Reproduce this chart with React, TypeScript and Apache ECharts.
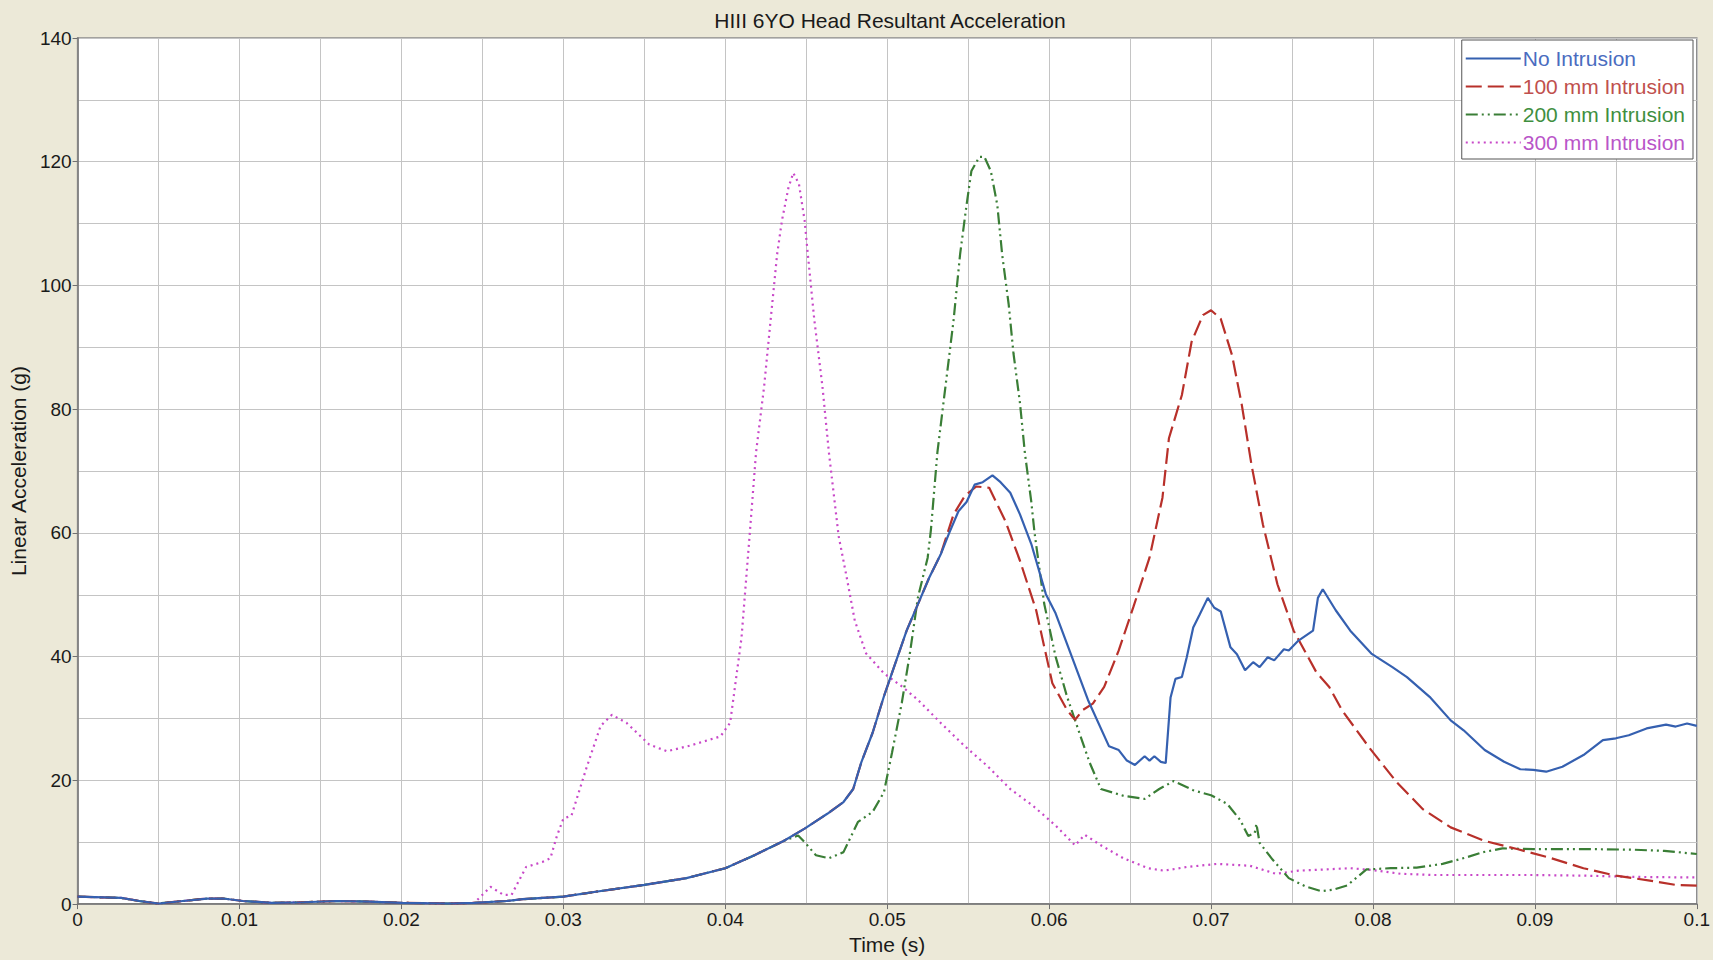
import React, { useEffect, useRef } from "react";
import * as echarts from "echarts";

const chartTitle = "HIII 6YO Head Resultant Acceleration";
const xAxisName = "Time (s)";
const yAxisName = "Linear Acceleration (g)";
const seriesNames = ["No Intrusion", "100 mm Intrusion", "200 mm Intrusion", "300 mm Intrusion"];

// shared pre-impact segment (all four curves coincide here)
const commonEarly: [number, number][] = [
  [0, 1.2], [0.0027, 1.0], [0.0038, 0.5], [0.005, 0.1], [0.0065, 0.5], [0.008, 0.9],
  [0.009, 0.9], [0.0102, 0.5], [0.012, 0.2], [0.014, 0.3], [0.016, 0.5], [0.018, 0.4],
  [0.02, 0.2], [0.023, 0.1], [0.0245, 0.2],
];

// shared rise segment for the three non-300 mm curves
const commonRise: [number, number][] = [
  [0.0265, 0.5], [0.0275, 0.8], [0.03, 1.2], [0.032, 2.0], [0.035, 3.1], [0.0376, 4.2],
  [0.04, 5.8], [0.0418, 7.9], [0.0436, 10.2],
];

const noIntrusionTail: [number, number][] = [
  [0.0449, 12.2], [0.0463, 14.6], [0.0473, 16.5], [0.0479, 18.6], [0.0484, 22.9], [0.0491, 27.7],
  [0.0498, 33.6], [0.0505, 38.9], [0.0512, 44.2], [0.0519, 48.5], [0.0526, 52.8], [0.0533, 56.5],
  [0.0538, 59.8], [0.0544, 63.5], [0.0549, 65.0], [0.0554, 67.8], [0.0559, 68.2], [0.0565, 69.3],
  [0.057, 68.2], [0.0576, 66.5], [0.0582, 63.0], [0.0589, 58.2], [0.0598, 50.1], [0.0604, 47.0],
  [0.0611, 42.1], [0.0624, 33.0], [0.0637, 25.5], [0.0643, 24.9], [0.0648, 23.2], [0.0653, 22.5],
  [0.0659, 23.9], [0.0662, 23.2], [0.0665, 23.9], [0.0669, 23.0], [0.0672, 22.8], [0.0675, 33.4],
  [0.0678, 36.4], [0.0682, 36.7], [0.0685, 39.9], [0.0689, 44.7], [0.0693, 46.8], [0.0698, 49.5],
  [0.0702, 47.9], [0.0706, 47.3], [0.0712, 41.5], [0.0716, 40.4], [0.0721, 37.8], [0.0726, 39.1],
  [0.073, 38.3], [0.0735, 39.9], [0.0739, 39.4], [0.0745, 41.2], [0.0748, 41.0], [0.0754, 42.6],
  [0.0763, 44.2], [0.0766, 49.5], [0.0769, 50.9], [0.0777, 47.5], [0.0786, 44.2], [0.0799, 40.5],
  [0.0812, 38.3], [0.0821, 36.7], [0.0835, 33.5], [0.0848, 29.7], [0.0856, 28.1], [0.0869, 24.9],
  [0.0881, 23.0], [0.0891, 21.8], [0.0899, 21.7], [0.0907, 21.4], [0.0917, 22.2], [0.093, 24.1],
  [0.0942, 26.5], [0.095, 26.8], [0.0958, 27.3], [0.0969, 28.4], [0.0981, 29.0], [0.0987, 28.7],
  [0.0994, 29.2], [0.1, 28.8],
];

const intrusion100Tail: [number, number][] = [
  [0.0449, 12.2], [0.0463, 14.6], [0.0473, 16.5], [0.0479, 18.6], [0.0484, 22.9], [0.0491, 27.7],
  [0.0498, 33.6], [0.0505, 38.9], [0.0512, 44.2], [0.0519, 48.5], [0.0526, 52.8], [0.0533, 56.5],
  [0.0541, 63.0], [0.0548, 66.0], [0.0555, 67.5], [0.0563, 67.3], [0.0573, 61.9], [0.0582, 55.5],
  [0.0592, 47.5], [0.0602, 35.7], [0.0611, 31.4], [0.0616, 29.8], [0.0621, 31.4], [0.0627, 32.4],
  [0.0634, 35.1], [0.0643, 41.0], [0.0652, 48.0], [0.0662, 56.0], [0.067, 65.7], [0.0674, 75.3],
  [0.0682, 82.3], [0.0688, 90.9], [0.0695, 95.2], [0.07, 96.0], [0.0706, 94.6], [0.0713, 88.7],
  [0.0719, 80.7], [0.0725, 71.0], [0.0732, 61.4], [0.0741, 51.7], [0.0751, 44.2], [0.0765, 37.5],
  [0.0773, 35.1], [0.0781, 31.3], [0.0798, 25.2], [0.0815, 19.6], [0.0831, 15.3], [0.0848, 12.4],
  [0.0869, 10.2], [0.0889, 8.9], [0.0909, 7.5], [0.093, 5.8], [0.095, 4.6], [0.0971, 3.8],
  [0.0987, 3.1], [0.1, 3.0],
];

const intrusion200Tail: [number, number][] = [
  [0.0445, 11.1], [0.0449, 10.0], [0.0456, 7.9], [0.0464, 7.4], [0.0473, 8.4], [0.0482, 13.3],
  [0.0491, 14.9], [0.0498, 18.1], [0.0503, 24.5], [0.0509, 32.5], [0.0514, 40.5], [0.0519, 49.6],
  [0.0525, 56.0], [0.0527, 60.5], [0.0531, 73.0], [0.0536, 83.7], [0.0541, 94.4], [0.0545, 105.0],
  [0.0549, 113.0], [0.0552, 118.5], [0.0557, 120.8], [0.056, 120.8], [0.0564, 118.5], [0.0568, 113.0],
  [0.0571, 105.0], [0.0575, 97.0], [0.0578, 89.0], [0.0582, 81.0], [0.0585, 73.0], [0.0589, 65.0],
  [0.0591, 60.0], [0.0597, 48.5], [0.0604, 40.0], [0.0611, 33.6], [0.0618, 28.2], [0.0625, 22.9],
  [0.0632, 18.6], [0.0646, 17.5], [0.0659, 17.0], [0.0668, 18.6], [0.0677, 19.9], [0.0689, 18.4],
  [0.07, 17.6], [0.071, 16.2], [0.0718, 13.6], [0.0723, 11.0], [0.0727, 11.5], [0.0728, 13.0],
  [0.073, 9.9], [0.0738, 7.2], [0.0748, 4.2], [0.0758, 2.9], [0.0768, 2.1], [0.0775, 2.3],
  [0.0784, 3.0], [0.0796, 5.6], [0.0811, 5.8], [0.0827, 5.9], [0.0843, 6.5], [0.0857, 7.5],
  [0.0868, 8.4], [0.088, 9.0], [0.0899, 8.9], [0.093, 8.9], [0.096, 8.8], [0.098, 8.6], [0.1, 8.1],
];

const intrusion300Tail: [number, number][] = [
  [0.0255, 2.8], [0.0263, 1.5], [0.0268, 1.5], [0.0277, 6.0], [0.0287, 6.8], [0.0292, 7.4],
  [0.0296, 11.0], [0.03, 13.8], [0.0305, 14.3], [0.0314, 21.8], [0.0323, 28.8], [0.033, 30.6],
  [0.0339, 29.3], [0.0353, 25.8], [0.0364, 24.7], [0.0378, 25.6], [0.0397, 27.1], [0.0403, 29.3],
  [0.041, 43.0], [0.0415, 59.5], [0.0419, 73.0], [0.0424, 83.7], [0.0428, 94.4], [0.0432, 105.0],
  [0.0435, 110.5], [0.0439, 115.8], [0.0442, 118.2], [0.04455, 116.4], [0.0449, 110.5], [0.0451, 105.0],
  [0.0455, 94.4], [0.046, 83.7], [0.0464, 73.0], [0.047, 59.5], [0.0475, 52.8], [0.048, 45.8],
  [0.0487, 40.5], [0.0498, 37.3], [0.0509, 35.2], [0.0519, 33.0], [0.0533, 29.3], [0.0548, 25.5],
  [0.0562, 22.3], [0.0576, 18.6], [0.059, 15.9], [0.0604, 12.7], [0.0616, 9.5], [0.0622, 11.2],
  [0.0632, 9.5], [0.0646, 7.4], [0.0661, 5.8], [0.0671, 5.4], [0.0685, 6.0], [0.0704, 6.5],
  [0.0724, 6.2], [0.074, 4.9], [0.0754, 5.4], [0.0786, 5.8], [0.08, 5.5], [0.0817, 4.9],
  [0.0837, 4.7], [0.0868, 4.7], [0.0899, 4.7], [0.093, 4.6], [0.096, 4.4], [0.1, 4.3],
];

const lineColors = ["#3560B0", "#B8302A", "#3A7E36", "#C848C8"];
const legendTextColors = ["#4A6CC0", "#C0504D", "#3F8F3F", "#B955C8"];
const lineDashes: any[] = ["solid", [16, 6], [12, 4, 2, 4, 2, 4], [2, 4]];

const FONT = "Liberation Sans, Arial, sans-serif";

const GRID_LEFT = 73;
const GRID_RIGHT = 16;
const WIDTH = 1713;

export default function App() {
  const ref = useRef<HTMLDivElement>(null);

  useEffect(() => {
    if (!ref.current) return;
    const chart = echarts.init(ref.current, undefined, { renderer: "svg" });

    const seriesData = [
      [...commonEarly, ...commonRise, ...noIntrusionTail],
      [...commonEarly, ...commonRise, ...intrusion100Tail],
      [...commonEarly, ...commonRise, ...intrusion200Tail],
      [...commonEarly, ...intrusion300Tail],
    ];

    const gridLine = { color: "#C4C4C4", width: 1 };
    const axisLine = { color: "#707070", width: 1.5 };

    chart.setOption({
      animation: false,
      backgroundColor: "#ECE9D8",
      title: {
        text: chartTitle,
        left: (GRID_LEFT + (WIDTH - GRID_RIGHT)) / 2,
        textAlign: "center",
        top: 5,
        textStyle: { fontFamily: FONT, fontSize: 21, fontWeight: "normal", color: "#1A1A1A" },
      },
      grid: {
        left: GRID_LEFT,
        right: GRID_RIGHT,
        top: 38,
        bottom: 51,
        show: true,
        backgroundColor: "#FFFFFF",
        borderColor: "#8A8A8A",
        borderWidth: 1.5,
      },
      legend: {
        orient: "vertical",
        right: 20,
        top: 40,
        backgroundColor: "#FFFFFF",
        borderColor: "#555555",
        borderWidth: 1,
        padding: [8, 8, 6, 3],
        itemGap: 7,
        itemWidth: 55,
        itemHeight: 14,
        itemStyle: { opacity: 0 },
        textStyle: { fontFamily: FONT, fontSize: 21, padding: [0, 0, 0, -3] },
        data: seriesNames.map((n, i) => ({ name: n, textStyle: { color: legendTextColors[i] } })),
      },
      xAxis: {
        type: "value",
        min: 0,
        max: 0.1,
        interval: 0.01,
        name: xAxisName,
        nameLocation: "middle",
        nameGap: 26,
        nameTextStyle: { fontFamily: FONT, fontSize: 21, color: "#1A1A1A" },
        axisLine: { onZero: false, lineStyle: axisLine },
        axisTick: { show: true, length: 5, lineStyle: { color: "#707070" } },
        axisLabel: {
          margin: 6,
          fontFamily: FONT,
          fontSize: 19,
          color: "#1A1A1A",
          formatter: (v: number) => (v === 0 ? "0" : String(parseFloat(v.toFixed(3)))),
        },
        splitLine: { show: true, lineStyle: gridLine },
        minorTick: { show: false, splitNumber: 2 },
        minorSplitLine: { show: true, lineStyle: gridLine },
      },
      yAxis: {
        type: "value",
        min: 0,
        max: 140,
        interval: 20,
        name: yAxisName,
        nameLocation: "middle",
        nameRotate: 90,
        nameGap: 40,
        nameTextStyle: { fontFamily: FONT, fontSize: 21, color: "#1A1A1A" },
        axisLine: { show: true, lineStyle: axisLine },
        axisTick: { show: true, length: 5, lineStyle: { color: "#707070" } },
        axisLabel: { margin: 6, fontFamily: FONT, fontSize: 19, color: "#1A1A1A" },
        splitLine: { show: true, lineStyle: gridLine },
        minorTick: { show: false, splitNumber: 2 },
        minorSplitLine: { show: true, lineStyle: gridLine },
      },
      series: seriesNames.map((n, i) => ({
        name: n,
        type: "line",
        data: seriesData[i],
        symbol: "none",
        showSymbol: false,
        smooth: false,
        z: 10 - i,
        lineStyle: { color: lineColors[i], width: 2.2, type: lineDashes[i] },
        itemStyle: { color: lineColors[i] },
      })),
    });

    return () => chart.dispose();
  }, []);

  return (
    <div
      ref={ref}
      style={{ position: "fixed", left: 0, top: 0, width: "1713px", height: "960px" }}
    />
  );
}
